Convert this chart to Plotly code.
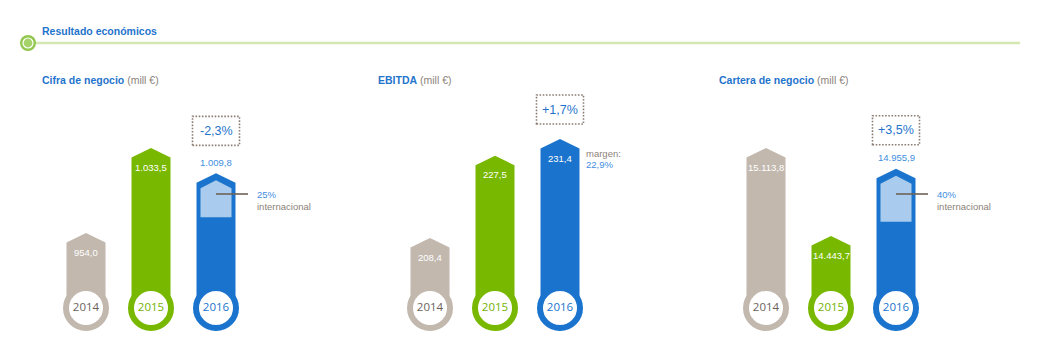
import plotly.graph_objects as go

# ---------------- data ----------------
years = ["2014", "2015", "2016"]
cifra_negocio = [954.0, 1033.5, 1009.8]
ebitda = [208.4, 227.5, 231.4]
cartera_negocio = [15113.8, 14443.7, 14955.9]
variacion_2016 = ["-2,3%", "+1,7%", "+3,5%"]
internacional_2016 = [0.25, None, 0.40]
margen_ebitda_2016 = "22,9%"
panel_titles = ["Cifra de negocio", "EBITDA", "Cartera de negocio"]
unit_label = "(mill €)"
section_title = "Resultado económicos"
series = [cifra_negocio, ebitda, cartera_negocio]


def es_num(v):
    s = f"{v:,.1f}"
    return s.replace(",", "X").replace(".", ",").replace("X", ".")


def pct(v):
    return f"{round(v * 100)}%"


# ---------------- layout / style constants ----------------
W, H = 1040, 358
FONT = "Liberation Sans, Arial, sans-serif"
YEAR_FONT = "Open Sans, Liberation Sans, sans-serif"
COL_PX = 65                      # pixels between categories
FIRST_CENTER = [86, 430, 766]    # pixel x of first category per panel
Y_RANGES = [(837.07, 1171.96), (180.52, 263.70), (13514.5, 16241.1)]
BASE_PX = 308                    # pixel y of year circles
TITLE_X = [40, 376, 717]
BOX_OFF = [28, 15, 24]           # dotted box bottom offset above 2016 peak (px)
BOX_H = 29
BAR_COLORS = ["#c2b8ae", "#78b800", "#1a74cd"]
YEAR_TEXT = ["#6d625b", "#74b300", "#1a74cd"]
LIGHT = "#a8cbee"
TITLE_BLUE = "#1f74cc"
LABEL_BLUE = "#3f8ee0"
GRAY_TXT = "#8d837b"
HALF_W = 19.5
DROP = 9.5

fig = go.Figure()


def py(px):
    """paper y from pixel y"""
    return 1 - px / H


def arrow(xc, top, hw_px, drop_px, bottom, yr):
    dx = hw_px / COL_PX
    dy = drop_px * (yr[1] - yr[0]) / H
    xs = [xc - dx, xc - dx, xc, xc + dx, xc + dx, xc - dx]
    ys = [bottom, top - dy, top, top - dy, bottom, bottom]
    return xs, ys


annotations = []
shapes = []

for p, vals in enumerate(series):
    sfx = "" if p == 0 else str(p + 1)
    xa, ya = "x" + sfx, "y" + sfx
    yr = Y_RANGES[p]
    upp = (yr[1] - yr[0]) / H          # data units per pixel
    base = yr[1] - BASE_PX * upp
    c0 = FIRST_CENTER[p]
    left_px, right_px = c0 - 80, c0 + 210
    fig.update_layout(**{
        ("xaxis" + sfx): dict(domain=[left_px / W, right_px / W], range=[-80 / COL_PX, 210 / COL_PX],
                              visible=False, fixedrange=True, anchor=ya),
        ("yaxis" + sfx): dict(domain=[0, 1], range=list(yr), visible=False, fixedrange=True, anchor=xa),
    })

    # bars (arrow shaped)
    for j, v in enumerate(vals):
        xs, ys = arrow(j, v, HALF_W, DROP, base, yr)
        fig.add_trace(go.Scatter(x=xs, y=ys, xaxis=xa, yaxis=ya, mode="lines", fill="toself",
                                 fillcolor=BAR_COLORS[j], line=dict(width=0), hoverinfo="skip",
                                 showlegend=False))
    # international share inset on 2016
    share = internacional_2016[p]
    v16 = vals[2]
    if share is not None:
        inner_top = v16 - 7 * upp
        inner_bottom = inner_top - (22 + 60 * share) * upp
        xs, ys = arrow(2, inner_top, 15.5, 8, inner_bottom, yr)
        fig.add_trace(go.Scatter(x=xs, y=ys, xaxis=xa, yaxis=ya, mode="lines", fill="toself",
                                 fillcolor=LIGHT, line=dict(width=0), hoverinfo="skip",
                                 showlegend=False))
        shapes.append(dict(type="line", xref=xa, xsizemode="pixel", xanchor=2, x0=0, x1=32,
                           yref="paper", y0=py(194), y1=py(194),
                           line=dict(color="#6e6259", width=1.6)))
        annotations.append(dict(x=2, y=py(194), xref=xa, yref="paper", xshift=39, text=pct(share),
                                showarrow=False, xanchor="left", yanchor="middle",
                                font=dict(family=FONT, size=9.5, color=LABEL_BLUE)))
        annotations.append(dict(x=2, y=py(206), xref=xa, yref="paper", xshift=39, text="internacional",
                                showarrow=False, xanchor="left", yanchor="middle",
                                font=dict(family=FONT, size=9.5, color=GRAY_TXT)))

    # year circles
    fig.add_trace(go.Scatter(x=[0, 1, 2], y=[base] * 3, xaxis=xa, yaxis=ya, mode="markers+text",
                             marker=dict(size=40, color="white", line=dict(width=6, color=BAR_COLORS)),
                             text=years, textposition="middle center",
                             textfont=dict(family=YEAR_FONT, size=11.5, color=YEAR_TEXT),
                             hoverinfo="skip", showlegend=False))

    # value labels
    for j, v in enumerate(vals):
        if j == 2 and share is not None:
            annotations.append(dict(x=j, y=v, xref=xa, yref=ya, yshift=11, text=es_num(v),
                                    showarrow=False, yanchor="middle",
                                    font=dict(family=FONT, size=9.5, color=LABEL_BLUE)))
        else:
            annotations.append(dict(x=j, y=v, xref=xa, yref=ya, yshift=-19, text=es_num(v),
                                    showarrow=False, yanchor="middle",
                                    font=dict(family=FONT, size=9.5, color="white")))

    # variation box
    shapes.append(dict(type="rect", xref=xa, yref=ya, xsizemode="pixel", ysizemode="pixel",
                       xanchor=2, yanchor=v16, x0=-23.5, x1=23.5,
                       y0=BOX_OFF[p], y1=BOX_OFF[p] + BOX_H,
                       line=dict(color="#8b7d74", width=1.6, dash="1.6px,1.6px"), fillcolor="white"))
    annotations.append(dict(x=2, y=v16, xref=xa, yref=ya, yshift=BOX_OFF[p] + BOX_H / 2,
                            text=variacion_2016[p], showarrow=False, yanchor="middle",
                            font=dict(family=FONT, size=12.5, color=TITLE_BLUE)))

    # panel title
    annotations.append(dict(x=TITLE_X[p] / W, y=py(80), xref="paper", yref="paper",
                            xanchor="left", yanchor="middle", showarrow=False,
                            text=f"<b>{panel_titles[p]}</b> <span style='color:{GRAY_TXT}'>{unit_label}</span>",
                            font=dict(family=FONT, size=10.5, color=TITLE_BLUE)))

# EBITDA margin note
annotations.append(dict(x=2, y=py(153), xref="x2", yref="paper", xshift=24, text="margen:",
                        showarrow=False, xanchor="left", yanchor="middle",
                        font=dict(family=FONT, size=9.5, color=GRAY_TXT)))
annotations.append(dict(x=2, y=py(164), xref="x2", yref="paper", xshift=24, text=margen_ebitda_2016,
                        showarrow=False, xanchor="left", yanchor="middle",
                        font=dict(family=FONT, size=9.5, color=LABEL_BLUE)))

# section header
shapes.append(dict(type="line", xref="paper", yref="paper", x0=28 / W, x1=1020 / W, y0=py(43), y1=py(43),
                   line=dict(color="#d3e7b1", width=2.5)))
for r, col in [(8, "#92c74e"), (5.6, "white"), (4.4, "#a6d26a")]:
    shapes.append(dict(type="circle", xref="paper", yref="paper", xsizemode="pixel", ysizemode="pixel",
                       xanchor=28 / W, yanchor=py(43), x0=-r, x1=r, y0=-r, y1=r,
                       fillcolor=col, line=dict(width=0)))
annotations.append(dict(x=40 / W, y=py(31), xref="paper", yref="paper", xanchor="left", yanchor="middle",
                        showarrow=False, text=f"<b>{section_title}</b>",
                        font=dict(family=FONT, size=10.5, color=TITLE_BLUE)))

fig.update_layout(width=W, height=H, margin=dict(l=0, r=0, t=0, b=0),
                  paper_bgcolor="white", plot_bgcolor="rgba(0,0,0,0)",
                  shapes=shapes, annotations=annotations, showlegend=False)

fig.write_html("out.html", config={"displayModeBar": False},
               post_script="document.body.style.margin='0';document.body.style.overflow='hidden';")
